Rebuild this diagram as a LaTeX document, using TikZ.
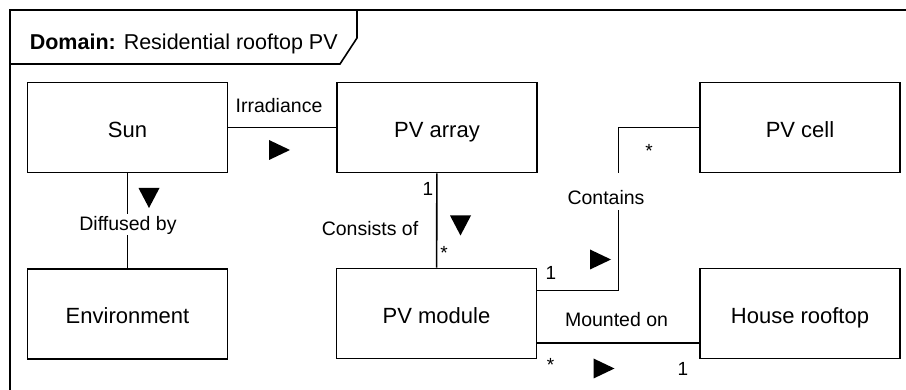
\documentclass[tikz,border=0pt]{standalone}
\usepackage{fontspec}
\setmainfont{Liberation Sans}
\usetikzlibrary{calc}
\begin{document}
\begin{tikzpicture}[x=1pt,y=-1pt,line width=1.6pt,
  box/.style={draw,rectangle,minimum width=200pt,minimum height=90pt,inner sep=0pt,text height=20pt,text depth=0pt,font=\fontsize{22}{25}\selectfont},
  elabel/.style={inner sep=0pt,font=\fontsize{19.5}{22}\selectfont},
  mult/.style={inner sep=0pt,font=\fontsize{19}{22}\selectfont},
  rtri/.pic={\fill (-10,-10) -- (11,0) -- (-10,10) -- cycle;},
  dtri/.pic={\fill (-10.5,-10) -- (10.5,-10) -- (0,10) -- cycle;}]
\useasboundingbox (0,0) rectangle (906,390);
% frame
\draw (906,10) -- (10,10) -- (10,390);
\draw (10,64) -- (340,64) -- (357,38) -- (357,10);
\node[anchor=base west,inner sep=0pt,font=\fontsize{21.5}{24}\selectfont] (title) at (29,50) {\textbf{Domain:} Residential rooftop PV};
% boxes
\node[box] (sun) at (127.5,127.5) {Sun};
\node[box] (arr) at (437,127.5) {PV array};
\node[box] (cell) at (800,127.5) {PV cell};
\node[box] (env) at (127.5,314) {Environment};
\node[box] (mod) at (436.5,313.5) {PV module};
\node[box] (house) at (800,313.5) {House rooftop};
% connectors
\draw (sun) -- (arr);
\node[elabel,anchor=base] (lirr) at (279,112.7) {Irradiance};
\pic at (279,150) {rtri};

\draw (sun) -- (env);
\node[elabel,anchor=base,fill=white,text height=17pt,text depth=4.5pt,inner xsep=1pt] (ldif) at (128,230.7) {Diffused by};
\pic at (149,198) {dtri};

\draw (arr) -- (mod);
\node[elabel,anchor=base] (lcons) at (370,236) {Consists of};
\node[mult,anchor=base] (m1) at (428,196) {1};
\node[mult] (m2) at (444,253) {*};
\pic at (460.5,225.5) {dtri};

\draw ([yshift=-23pt]mod.north east) -- ++(81,0) |- (cell.west);
\node[elabel,anchor=base,fill=white,text height=32pt,text depth=5pt,inner xsep=1pt] (lcont) at (606,205) {Contains};
\node[mult,anchor=base] (m3) at (551,280) {1};
\node[mult] (m4) at (649,151) {*};
\pic at (600,259.5) {rtri};

\draw ([yshift=16pt]mod.south east) -- ([yshift=16pt]house.south west);
\node[elabel,anchor=base] (lmount) at (616.5,326.7) {Mounted on};
\node[mult] (m5) at (550.5,365) {*};
\node[mult,anchor=base] (m6) at (683,375) {1};
\pic at (603.5,368.5) {rtri};
\end{tikzpicture}
\end{document}
